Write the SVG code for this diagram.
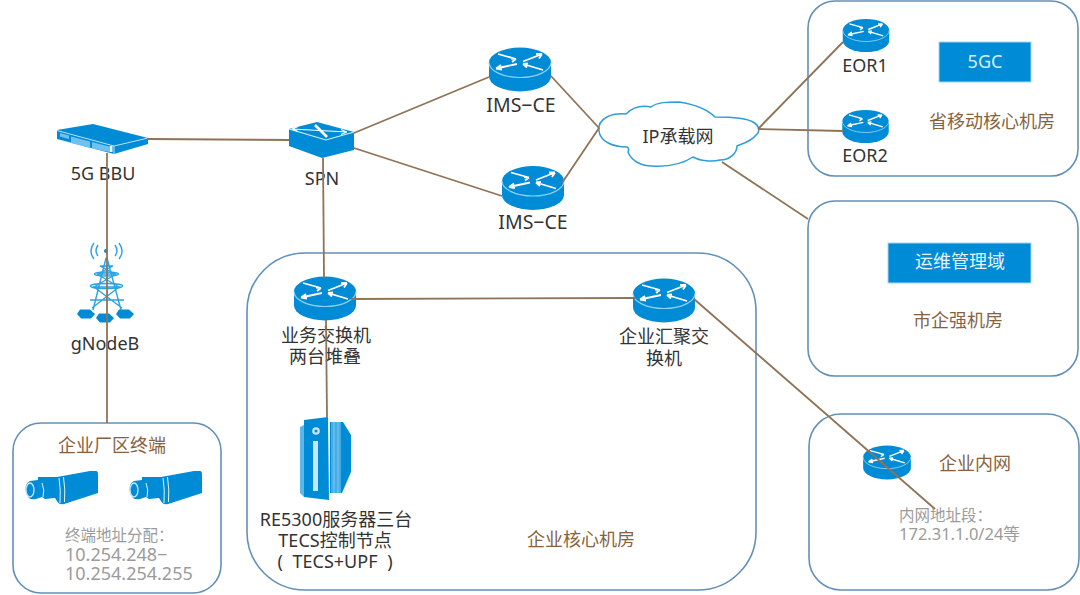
<svg xmlns="http://www.w3.org/2000/svg" width="1080" height="595" viewBox="0 0 1080 595">
<style>
text{font-family:"Noto Sans","Noto Sans CJK SC","Liberation Sans",sans-serif;font-size:18px;text-anchor:middle;fill:#333}
.br{fill:#86633f}
.gl{fill:#9b9b9b;font-size:18px;text-anchor:start}
.gc{fill:#9b9b9b;font-size:15.500px;text-anchor:start}
.room{fill:#fff;stroke:#6390b8;stroke-width:1.6}
.con line{stroke:#8f7357;stroke-width:1.8}
.bl{fill:#008bd6}
.wl{fill:none;stroke:#fff;stroke-width:1.2}
.ar{fill:none;stroke:#fff;stroke-width:1.800}
.lt{fill:#c3e8fb}
.tw{fill:none;stroke:#2ba3e3;stroke-width:1.4}
</style>
<defs>
<g id="router">
<path class="bl" d="M-31-7A31 15 0 0 1 31-7V7A31 15 0 0 1-31 7Z"/>
<path d="M-31-7A31 15 0 0 0 31-7" fill="none" stroke="#8fd0f2" stroke-width="1.200"/>
<path class="ar" d="M-22-15.500L-4-10.500M-4-10.500l-5-.5M-4-10.500l-4 3M-3-5.500L-24-1M-24-1l5-3.500M-24-1l6 1M3-8L22-15.500M22-15.500l-6 0M22-15.500l-3 4.500M23 .5L3-5.500M3-5.500l5-.5M3-5.500l4 3.500"/>
</g>
<g id="cam">
<path class="bl" d="M38 477L57 477L90 471L96 471Q98 471 98 474V493L64 504Q59 505 57 501L55 498L45 499L42 497L36 499Q28 501 26 492Q24 484 30 481L38 480Z"/>
<path class="wl" d="M59 478Q61 490 60 503M63.500 477Q65.500 490 64.500 502" style="stroke-width:.9"/>
<path class="wl" d="M42 483Q45 490 43 497" style="stroke-width:.9"/>
<ellipse cx="30" cy="490" rx="4" ry="7" fill="none" stroke="#bfe6fa" stroke-width="1.400"/>
</g>
<g id="hex"><path class="bl" d="M-6-4.500H4L9 0L5 4.500H-5L-9 0Z"/></g>
</defs>

<g id="room-province"><rect class="room" x="808" y="1" width="270" height="175" rx="27"/></g>
<g id="room-city"><rect class="room" x="808" y="201" width="270" height="175" rx="27"/></g>
<g id="room-core"><rect class="room" x="247" y="253" width="509" height="337" rx="58"/></g>
<g id="room-terminal"><rect class="room" x="13" y="423" width="208" height="170" rx="28"/></g>
<g id="room-intranet"><rect class="room" x="809" y="414" width="270" height="176" rx="32"/></g>

<g id="bbu">
<path class="bl" d="M57 130L93 124L148 138L148 144L114 154L57 139Z"/>
<path d="M57 130.500L114 146L148 138M114 146V154" fill="none" stroke="#b7e2f8" stroke-width="1"/>
<path d="M60 133L69 135.500V139L60 136.500ZM71 136.500L90 141.500V148L71 143ZM92 142L109 146.500V152L92 148.500Z" fill="#6fc2ee"/>
<rect x="109.500" y="146" width="3" height="6" fill="#e6f6fe"/>
<text x="103" y="180">5G BBU</text>
</g>
<g id="spn">
<path class="bl" d="M289 129L317 122L354 132V150L322 158L289 146Z"/>
<path d="M289 129L326 140L354 132" fill="none" stroke="#d4eefc" stroke-width="1.200"/>
<path class="wl" d="M292 129L347 132M292 129l6-2.500M292 129l6 2.500M347 132l-6-2.500M347 132l-6 2.500"/>
<path d="M315 125L327 137" stroke="#fff" stroke-width="2.600"/>
<text x="322" y="185">SPN</text>
</g>
<g id="ims1"><use href="#router" x="520" y="69.500"/><text x="521" y="112" style="font-size:19.500px">IMS−CE</text></g>
<g id="ims2"><use href="#router" x="533" y="188"/><text x="533" y="229" style="font-size:19.500px">IMS−CE</text></g>
<g id="cloud">
<path d="M599 131C597 118 612 113 626 114C632 108 641 105 651 107C657 102 668 102 679 102C692 104 706 108 715 117C727 117 745 117 753 122C760 126 760 132 756 135C752 141 742 144 737 146C737 153 730 160 720 160C712 162 700 161 693 157C684 163 670 167 652 166C640 166 631 160 628 152C630 148 627 147 627 147C612 147 600 141 599 131Z" fill="#fff" stroke="#2e9ddb" stroke-width="1.500"/>
<text x="678" y="143">IP承载网</text>
</g>
<g id="eor1"><use href="#router" transform="translate(866 35.500) scale(.75)"/><text x="865" y="72">EOR1</text></g>
<g id="eor2"><use href="#router" transform="translate(865.500 126.500) scale(.75)"/><text x="865" y="162">EOR2</text></g>
<g id="box5gc"><rect x="939" y="42" width="92" height="40" fill="#008bd6" stroke="#9fd6f2"/><text x="985" y="68" style="fill:#d6effc">5GC</text><text class="br" x="992" y="128">省移动核心机房</text></g>
<g id="boxom"><rect x="888" y="243" width="143" height="40" fill="#008bd6" stroke="#9fd6f2"/><text x="960" y="268" style="fill:#e6f5fd">运维管理域</text><text class="br" x="958" y="327">市企强机房</text></g>
<g id="sw1"><use href="#router" x="325" y="298.500"/><text x="326" y="342">业务交换机</text><text x="325" y="363">两台堆叠</text></g>
<g id="sw2"><use href="#router" x="664" y="300.500"/><text x="664" y="343">企业汇聚交</text><text x="664" y="365">换机</text></g>
<g id="intranet-router"><use href="#router" transform="translate(887 462.500) scale(.77)"/><text class="br" x="975" y="470">企业内网</text><text class="gc" x="899" y="521">内网地址段：</text><text class="gl" x="899" y="540" style="font-size:16.500px">172.31.1.0/24等</text></g>

<g id="tower">
<path class="tw" d="M106 258L93 310M107 258L121 310M100 266H113M97 274H116M93 287H120M90 300H124M100 266L115 274M113 266L98 274M97 274L119 287M116 274L94 287M94 287L122 308M119 287L92 308"/>
<ellipse cx="106.500" cy="274" rx="12" ry="2" class="tw"/>
<ellipse cx="106.500" cy="286" rx="16" ry="2.500" class="tw"/>
<path class="tw" d="M98 256Q94 251 98 245M94 259Q88 251 94 243M115 256Q119 251 115 245M119 259Q125 251 119 243"/>
<use href="#hex" x="86" y="314"/><use href="#hex" x="105" y="318"/><use href="#hex" x="125" y="314"/>
<circle cx="106" cy="251" r="2" fill="#008bd6"/>
<text x="105" y="350">gNodeB</text>
</g>
<g id="terminals">
<text class="br" x="112" y="452">企业厂区终端</text>
<use href="#cam"/>
<use href="#cam" x="104"/>
<text class="gc" x="65" y="541">终端地址分配：</text>
<text class="gl" x="65" y="561">10.254.248−</text>
<text class="gl" x="65" y="580">10.254.254.255</text>
</g>
<g id="server">
<path d="M300 427L304 425V497L300 493Z" fill="#5cb8ea"/>
<path d="M330 422H343L351 435V472L342 493H330Z" class="bl"/>
<path d="M331 422H341V493H331Z" fill="#45ace6"/>
<path class="wl" d="M334 422V493M338 422V493" style="stroke:#8fd0f2;stroke-width:.8"/>
<path class="bl" d="M304 420L328 417L329 500L304 497Z"/>
<rect x="313" y="441" width="5" height="50" class="lt"/>
<circle cx="316" cy="431" r="3.800" class="lt"/><circle cx="316" cy="431" r="1.500" fill="#008bd6"/>
<text x="336" y="526">RE5300服务器三台</text>
<text x="335" y="547">TECS控制节点</text>
<text x="335" y="568" style="word-spacing:5px">( TECS+UPF )</text>
</g>
<text class="br" x="581" y="546">企业核心机房</text>

<g id="connectors" class="con">
<line x1="147" y1="139" x2="289" y2="140"/>
<line x1="107" y1="153" x2="107" y2="423"/>
<line x1="323" y1="158" x2="324" y2="278"/>
<line x1="354" y1="133" x2="489" y2="77"/>
<line x1="354" y1="148" x2="502" y2="196"/>
<line x1="551" y1="76" x2="599" y2="128"/>
<line x1="562" y1="183" x2="599" y2="128"/>
<line x1="758" y1="129" x2="843" y2="42"/>
<line x1="758" y1="129" x2="843" y2="131"/>
<line x1="722" y1="162" x2="808" y2="219"/>
<line x1="351" y1="299" x2="636" y2="298"/>
<line x1="694" y1="299" x2="935" y2="509"/>
<line x1="326" y1="320" x2="327" y2="417"/>
</g>
</svg>
